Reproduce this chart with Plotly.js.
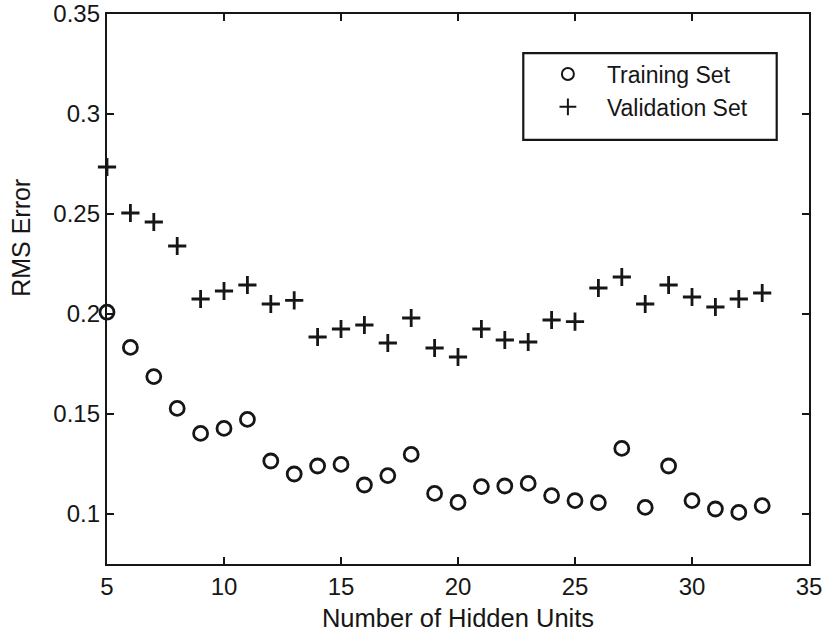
<!DOCTYPE html>
<html>
<head>
<meta charset="utf-8">
<script src="https://cdn.plot.ly/plotly-3.0.1.min.js"></script>
<style>
  html, body { margin: 0; padding: 0; background: #fff; }
  #chart { width: 825px; height: 636px; }
</style>
</head>
<body>
<div id="chart"></div>
<script>
// Network size (number of hidden units)
const hiddenUnits = [5, 6, 7, 8, 9, 10, 11, 12, 13, 14, 15, 16, 17, 18, 19,
                     20, 21, 22, 23, 24, 25, 26, 27, 28, 29, 30, 31, 32, 33];

// RMS error on the training set
const trainingRms = [0.2009, 0.1833, 0.1687, 0.1528, 0.1403, 0.1428, 0.1473, 0.1265, 0.1200, 0.1240,
                     0.1248, 0.1145, 0.1192, 0.1298, 0.1103, 0.1058, 0.1137, 0.1140, 0.1153, 0.1092,
                     0.1067, 0.1057, 0.1328, 0.1033, 0.1240, 0.1067, 0.1025, 0.1008, 0.1042];

// RMS error on the validation set
const validationRms = [0.2735, 0.2505, 0.2460, 0.2340, 0.2075, 0.2115, 0.2145, 0.2050, 0.2068, 0.1885,
                       0.1925, 0.1945, 0.1855, 0.1980, 0.1830, 0.1785, 0.1925, 0.1870, 0.1860, 0.1970,
                       0.1962, 0.2130, 0.2185, 0.2050, 0.2145, 0.2085, 0.2035, 0.2075, 0.2105];

const xTicks = [5, 10, 15, 20, 25, 30, 35];
const yTicks = [0.1, 0.15, 0.2, 0.25, 0.3, 0.35];
const yTickText = ['0.1', '0.15', '0.2', '0.25', '0.3', '0.35'];

const font = 'Liberation Sans, Arial, Helvetica, sans-serif';
const ink = '#161616';

const traces = [
  {
    x: hiddenUnits, y: trainingRms, name: 'Training Set',
    type: 'scatter', mode: 'markers', cliponaxis: false,
    marker: { symbol: 'circle-open', size: 14, color: ink, line: { width: 2.8, color: ink } }
  },
  {
    x: hiddenUnits, y: validationRms, name: 'Validation Set',
    type: 'scatter', mode: 'markers', cliponaxis: false,
    marker: { symbol: 'cross-thin-open', size: 13, color: ink, line: { width: 2.8, color: ink } }
  }
];

const axisCommon = {
  showline: true, linecolor: ink, linewidth: 2.2, mirror: 'ticks',
  ticks: 'inside', ticklen: 7, tickwidth: 2, tickcolor: ink,
  showgrid: false, zeroline: false,
  tickfont: { family: font, size: 24, color: ink }
};

const layout = {
  width: 825, height: 636,
  margin: { l: 107, r: 16, t: 14, b: 72 },
  paper_bgcolor: '#fff', plot_bgcolor: '#fff',
  showlegend: true,
  xaxis: Object.assign({}, axisCommon, {
    range: [5, 35], tickvals: xTicks,
    title: { text: 'Number of Hidden Units', font: { family: font, size: 25.5, color: ink }, standoff: 10 }
  }),
  yaxis: Object.assign({}, axisCommon, {
    range: [0.075, 0.35], tickvals: yTicks, ticktext: yTickText
  }),
  annotations: [
    { text: 'RMS Error', xref: 'paper', yref: 'paper', x: -0.1225, y: 0.593,
      xanchor: 'center', yanchor: 'middle', textangle: -90, showarrow: false,
      font: { family: font, size: 25, color: ink } }
  ],
  legend: {
    x: 0.601, y: 0.93, xanchor: 'left', yanchor: 'top',
    bgcolor: 'rgba(0,0,0,0)', borderwidth: 0,
    font: { family: font, size: 23, color: ink },
    itemwidth: 68, tracegroupgap: 0, itemsizing: 'constant'
  },
  shapes: [
    { type: 'rect', xref: 'paper', yref: 'paper',
      x0: 0.593, x1: 0.954, y0: 0.771, y1: 0.929,
      line: { color: ink, width: 2.2 }, fillcolor: 'rgba(0,0,0,0)' }
  ]
};

Plotly.newPlot('chart', traces, layout, { displayModeBar: false, staticPlot: true });
</script>
</body>
</html>
